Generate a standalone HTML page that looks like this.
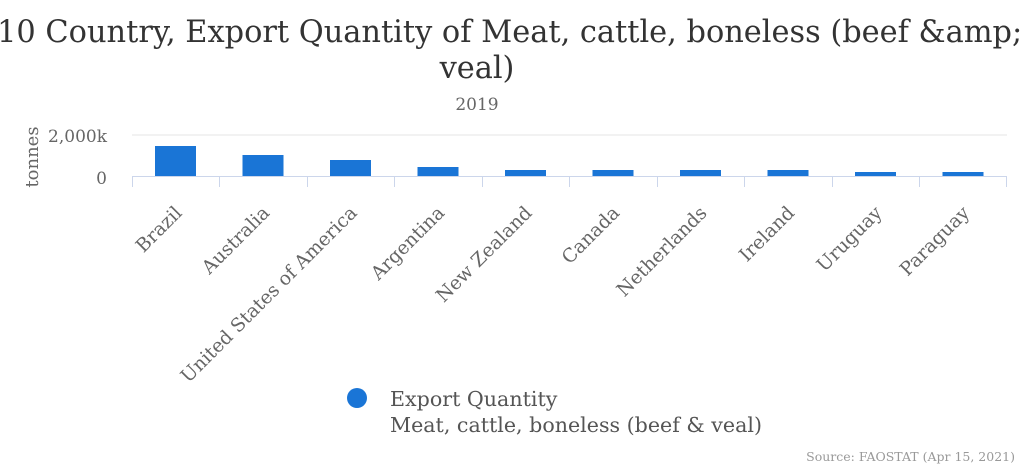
<!DOCTYPE html>
<html><head><meta charset="utf-8"><style>
body{margin:0;background:#fff;overflow:hidden;}
svg{display:block;font-family:"DejaVu Serif",serif;}
</style></head><body>
<svg width="1024" height="469" xmlns="http://www.w3.org/2000/svg">
<text x="477" y="42" text-anchor="middle" font-size="30.4" fill="#333">Top 10 Country, Export Quantity of Meat, cattle, boneless (beef &amp;amp;</text>
<text x="477" y="78" text-anchor="middle" font-size="30.4" fill="#333">veal)</text>
<text x="477" y="110" text-anchor="middle" font-size="17" fill="#666">2019</text>
<line x1="132" y1="135" x2="1007" y2="135" stroke="#e6e6e6" stroke-width="1"/>
<text x="107" y="142" text-anchor="end" font-size="17" fill="#666">2,000k</text>
<text x="107" y="184" text-anchor="end" font-size="17" fill="#666">0</text>
<text transform="translate(38,157) rotate(-90)" text-anchor="middle" font-size="18" fill="#666">tonnes</text>
<g fill="#1a75d6">
<rect x="155" y="146" width="41" height="30"/>
<rect x="242.5" y="155" width="41" height="21"/>
<rect x="330" y="160" width="41" height="16"/>
<rect x="417.5" y="167" width="41" height="9"/>
<rect x="505" y="170" width="41" height="6"/>
<rect x="592.5" y="170" width="41" height="6"/>
<rect x="680" y="170" width="41" height="6"/>
<rect x="767.5" y="170" width="41" height="6"/>
<rect x="855" y="172" width="41" height="4"/>
<rect x="942.5" y="172" width="41" height="4"/>
</g>
<g stroke="#ccd6eb" stroke-width="1">
<line x1="132" y1="176.5" x2="1007" y2="176.5"/>
<line x1="132.5" y1="176" x2="132.5" y2="187"/>
<line x1="219.5" y1="176" x2="219.5" y2="187"/>
<line x1="307.5" y1="176" x2="307.5" y2="187"/>
<line x1="394.5" y1="176" x2="394.5" y2="187"/>
<line x1="482.5" y1="176" x2="482.5" y2="187"/>
<line x1="569.5" y1="176" x2="569.5" y2="187"/>
<line x1="657.5" y1="176" x2="657.5" y2="187"/>
<line x1="744.5" y1="176" x2="744.5" y2="187"/>
<line x1="832.5" y1="176" x2="832.5" y2="187"/>
<line x1="919.5" y1="176" x2="919.5" y2="187"/>
<line x1="1006.5" y1="176" x2="1006.5" y2="187"/>
</g>
<g font-size="18.8" fill="#666" text-anchor="end">
<text transform="translate(183,214) rotate(-45)">Brazil</text>
<text transform="translate(270.5,214) rotate(-45)">Australia</text>
<text transform="translate(358,214) rotate(-45)">United States of America</text>
<text transform="translate(445.5,214) rotate(-45)">Argentina</text>
<text transform="translate(533,214) rotate(-45)">New Zealand</text>
<text transform="translate(620.5,214) rotate(-45)">Canada</text>
<text transform="translate(708,214) rotate(-45)">Netherlands</text>
<text transform="translate(795.5,214) rotate(-45)">Ireland</text>
<text transform="translate(883,214) rotate(-45)">Uruguay</text>
<text transform="translate(970.5,214) rotate(-45)">Paraguay</text>
</g>
<circle cx="357" cy="398" r="10" fill="#1a75d6"/>
<text x="390" y="406" font-size="20.6" fill="#555">Export Quantity</text>
<text x="390" y="432" font-size="20.6" fill="#555">Meat, cattle, boneless (beef &amp; veal)</text>
<text x="1015" y="461" text-anchor="end" font-size="12.5" fill="#999">Source: FAOSTAT (Apr 15, 2021)</text>
</svg>
</body></html>
